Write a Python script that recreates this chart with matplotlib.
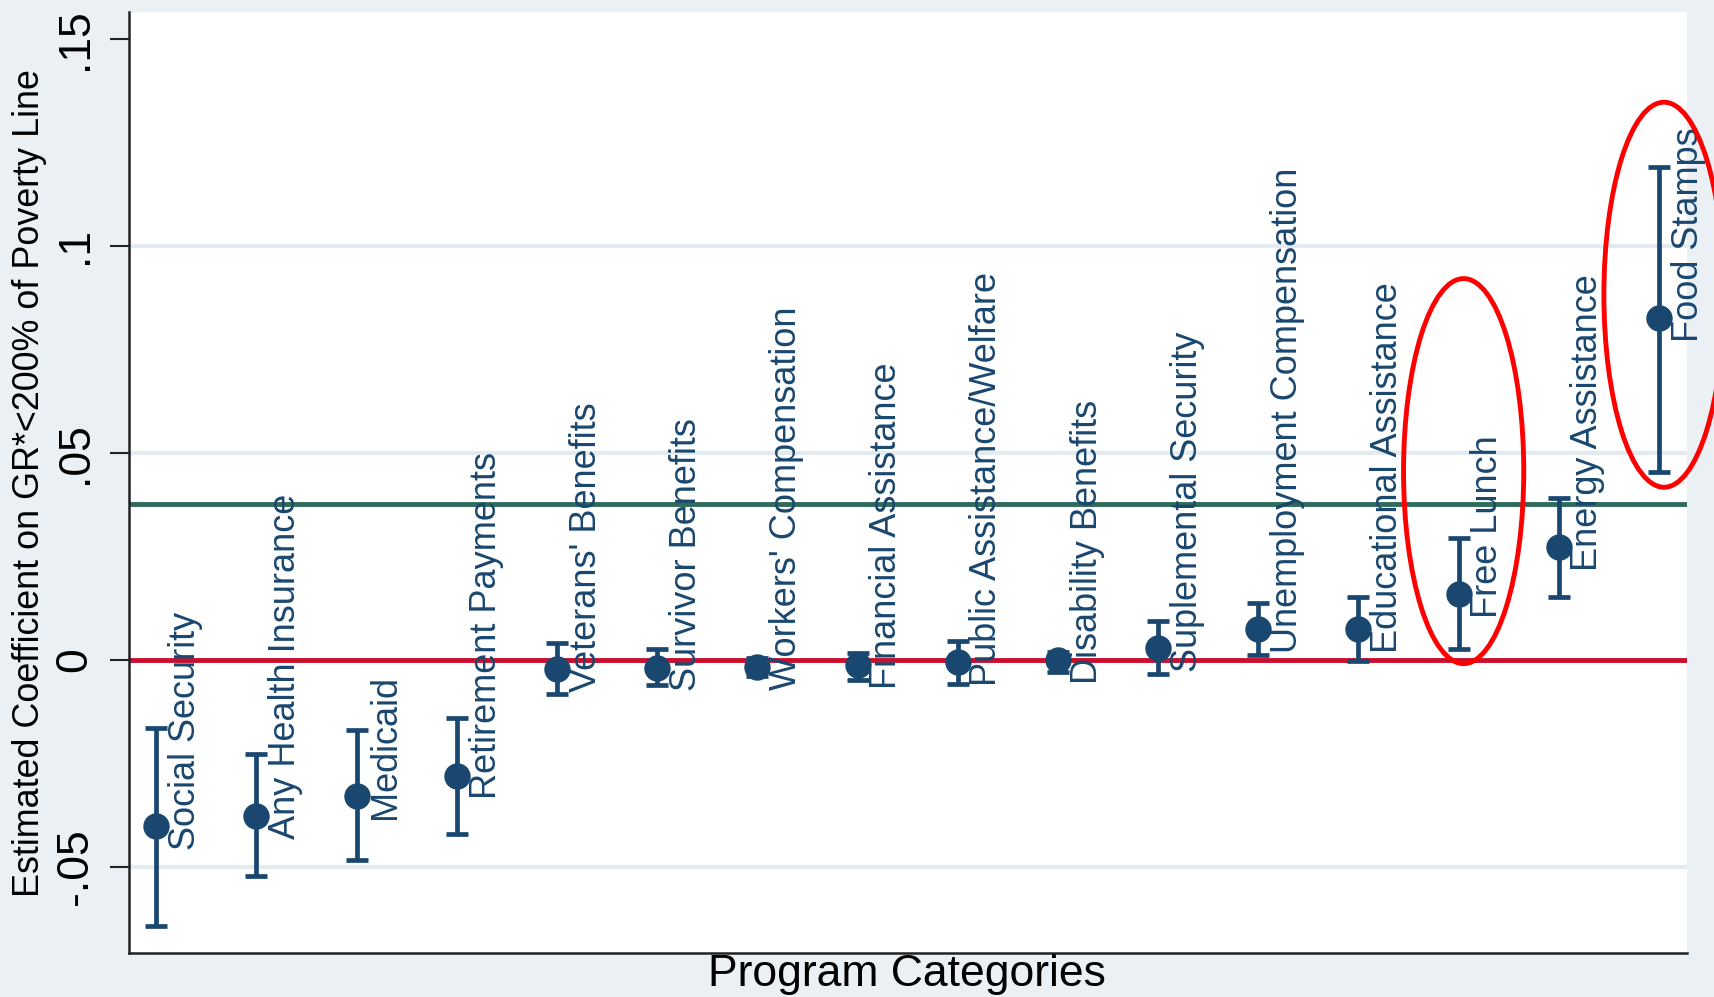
import matplotlib.pyplot as plt
from matplotlib.patches import Ellipse
import numpy as np

plt.rcParams['font.family'] = ['Liberation Sans', 'DejaVu Sans']

programs = ["Social Security", "Any Health Insurance", "Medicaid", "Retirement Payments",
            "Veterans' Benefits", "Survivor Benefits", "Workers' Compensation",
            "Financial Assistance", "Public Assistance/Welfare", "Disability Benefits",
            "Suplemental Security", "Unemployment Compensation", "Educational Assistance",
            "Free Lunch", "Energy Assistance", "Food Stamps"]
coef = [-0.0402, -0.0376, -0.0328, -0.0280, -0.0021, -0.0019, -0.0016, -0.0013,
        -0.0005, 0.0000, 0.0029, 0.0074, 0.0074, 0.0159, 0.0272, 0.0825]
ci_low = [-0.0643, -0.0521, -0.0484, -0.0421, -0.0082, -0.0061, -0.0040, -0.0048,
          -0.0058, -0.0030, -0.0034, 0.0013, -0.0003, 0.0026, 0.0153, 0.0455]
ci_high = [-0.0164, -0.0228, -0.0169, -0.0140, 0.0040, 0.0026, 0.0005, 0.0016,
           0.0045, 0.0020, 0.0093, 0.0138, 0.0153, 0.0294, 0.0392, 0.1190]
overall = 0.0376
highlight = ["Free Lunch", "Food Stamps"]

navy = '#1A476F'
bg = '#EAF0F3'

fig = plt.figure(figsize=(17.15, 9.97), dpi=100, facecolor=bg)
ax = fig.add_axes([0.0752, 0.0441, 0.9085, 0.9439])
ax.set_facecolor('white')

x = np.arange(1, len(programs) + 1)
coef = np.array(coef)
err = [coef - np.array(ci_low), np.array(ci_high) - coef]

for yv in [-0.05, 0.05, 0.1]:
    ax.axhline(yv, color='#E4EBF0', lw=3, zorder=0)
ax.axhline(0, color='#C8102E', lw=3.5, zorder=1)
ax.axhline(overall, color='#2E6B5A', lw=3.5, zorder=1)

ax.errorbar(x, coef, yerr=err, fmt='o', color=navy, ms=18, elinewidth=3.4,
            capsize=8, capthick=3.4, zorder=3)

for xi, yi, name in zip(x, coef, programs):
    ax.annotate(name, (xi, yi), xytext=(21, -17), textcoords='offset points',
                rotation=90, rotation_mode='anchor', ha='left', va='center',
                fontsize=26, color=navy, zorder=4)

# circle the two programs of interest
for name, yc in zip(highlight, [0.0456, 0.0882]):
    i = programs.index(name) + 1
    ax.add_patch(Ellipse((i + 0.05, yc), 1.2, 0.093, fill=False, ec='red',
                         lw=3.5, clip_on=False, zorder=5))

ax.set_xlim(0.727, 16.28)
ax.set_ylim(-0.0708, 0.1565)
ax.set_xticks([])
ax.set_yticks([-0.05, 0, 0.05, 0.1, 0.15])
ax.set_yticklabels(['-.05', '0', '.05', '.1', '.15'], rotation=90, va='center')
ax.tick_params(axis='y', length=14, width=1.5, pad=10, labelsize=32, color='#222222')
for s in ['top', 'right']:
    ax.spines[s].set_visible(False)
for s in ['left', 'bottom']:
    ax.spines[s].set_linewidth(1.8)
    ax.spines[s].set_color('#222222')

fig.text(30 / 1715, 0.5155, "Estimated Coefficient on GR*<200% of Poverty Line",
         rotation=90, ha='center', va='center', fontsize=25.8)
fig.text(0.529, 1 - 974 / 997, "Program Categories", ha='center', va='center', fontsize=32)

fig.savefig('out.png', dpi=100, facecolor=bg)
